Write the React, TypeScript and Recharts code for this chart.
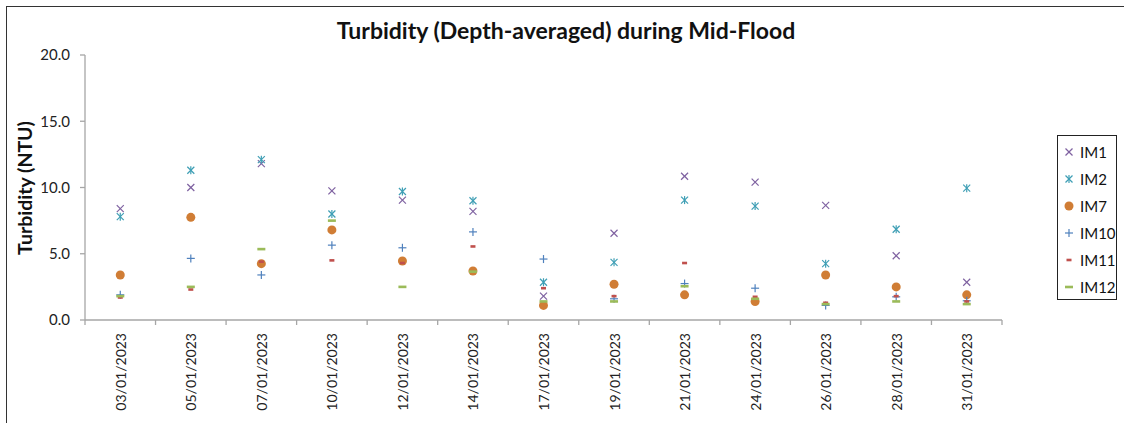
import React from 'react';
import { ComposedChart, Scatter, XAxis, YAxis } from 'recharts';

const dates = [
  '03/01/2023', '05/01/2023', '07/01/2023', '10/01/2023', '12/01/2023', '14/01/2023', '17/01/2023',
  '19/01/2023', '21/01/2023', '24/01/2023', '26/01/2023', '28/01/2023', '31/01/2023',
];
const im1 = [8.4, 10.0, 11.8, 9.75, 9.05, 8.2, 1.8, 6.55, 10.85, 10.4, 8.65, 4.85, 2.85];
const im2 = [7.8, 11.3, 12.1, 8.0, 9.7, 9.0, 2.85, 4.35, 9.05, 8.6, 4.25, 6.85, 9.95];
const im7 = [3.4, 7.75, 4.25, 6.8, 4.45, 3.7, 1.1, 2.7, 1.9, 1.4, 3.4, 2.5, 1.9];
const im10 = [1.9, 4.65, 3.4, 5.65, 5.45, 6.65, 4.6, 1.6, 2.75, 2.4, 1.1, 1.75, 1.45];
const im11 = [1.7, 2.3, 4.4, 4.5, 4.3, 5.55, 2.4, 1.8, 4.3, 1.75, 1.3, 1.8, 1.4];
const im12 = [1.8, 2.5, 5.35, 7.5, 2.5, 3.65, 1.4, 1.4, 2.55, 1.6, 1.2, 1.4, 1.2];
const yTicks = [0, 5, 10, 15, 20];

const rows = dates.map((date, i) => ({
  date,
  im1: im1[i],
  im2: im2[i],
  im7: im7[i],
  im10: im10[i],
  im11: im11[i],
  im12: im12[i],
}));

const FONT = 'Lato, "Open Sans", sans-serif';
const AXIS = '#a6a6a6';

type MarkProps = { cx: number; cy: number; color: string };

const Cross = ({ cx, cy, color }: MarkProps) => (
  <g stroke={color} strokeWidth={1.2}>
    <line x1={cx - 3.5} y1={cy - 3.5} x2={cx + 3.5} y2={cy + 3.5} />
    <line x1={cx - 3.5} y1={cy + 3.5} x2={cx + 3.5} y2={cy - 3.5} />
  </g>
);
const Star = ({ cx, cy, color }: MarkProps) => (
  <g stroke={color} strokeWidth={1.2}>
    <line x1={cx - 3.5} y1={cy - 3.5} x2={cx + 3.5} y2={cy + 3.5} />
    <line x1={cx - 3.5} y1={cy + 3.5} x2={cx + 3.5} y2={cy - 3.5} />
    <line x1={cx} y1={cy - 4} x2={cx} y2={cy + 4} />
  </g>
);
const Dot = ({ cx, cy, color }: MarkProps) => <circle cx={cx} cy={cy} r={4.5} fill={color} />;
const Plus = ({ cx, cy, color }: MarkProps) => (
  <g stroke={color} strokeWidth={1.2}>
    <line x1={cx - 4} y1={cy} x2={cx + 4} y2={cy} />
    <line x1={cx} y1={cy - 4} x2={cx} y2={cy + 4} />
  </g>
);
const ShortDash = ({ cx, cy, color }: MarkProps) => (
  <rect x={cx - 2.5} y={cy - 1.3} width={5} height={2.6} fill={color} />
);
const LongDash = ({ cx, cy, color }: MarkProps) => (
  <rect x={cx - 4} y={cy - 1.3} width={8} height={2.6} fill={color} />
);

const series = [
  { key: 'im1', name: 'IM1', color: '#7f62a1', Mark: Cross },
  { key: 'im2', name: 'IM2', color: '#3f9fb5', Mark: Star },
  { key: 'im7', name: 'IM7', color: '#d07d35', Mark: Dot },
  { key: 'im10', name: 'IM10', color: '#4f81bd', Mark: Plus },
  { key: 'im11', name: 'IM11', color: '#c0504d', Mark: ShortDash },
  { key: 'im12', name: 'IM12', color: '#9bbb59', Mark: LongDash },
];

const DateTick = (props: any) => {
  const { x, y, payload, index, width, visibleTicksCount } = props;
  const band = width / visibleTicksCount;
  const axisY = y - 8;
  return (
    <g>
      <line x1={x - band / 2} y1={axisY} x2={x - band / 2} y2={axisY + 5} stroke={AXIS} strokeWidth={1.3} />
      {index === visibleTicksCount - 1 && (
        <line x1={x + band / 2} y1={axisY} x2={x + band / 2} y2={axisY + 5} stroke={AXIS} strokeWidth={1.3} />
      )}
      <text
        x={x}
        y={axisY + 13}
        transform={`rotate(-90 ${x} ${axisY + 13})`}
        textAnchor="end"
        dominantBaseline="central"
        fontSize={14}
        fontFamily={FONT}
        fill="#222"
      >
        {payload.value}
      </text>
    </g>
  );
};

export default function App() {
  return (
    <div style={{ position: 'absolute', left: 0, top: 0, width: 1124, height: 423, overflow: 'hidden', background: '#fff' }}>
      <div
        style={{
          position: 'absolute',
          left: 6,
          top: 6,
          width: 1200,
          height: 500,
          borderLeft: '1.5px solid #333',
          borderTop: '1.5px solid #333',
        }}
      />
      <div
        style={{
          position: 'absolute',
          left: 0,
          width: 1124,
          top: 16,
          textAlign: 'center',
          fontFamily: FONT,
          fontWeight: 700,
          fontSize: 23,
          color: '#111',
          paddingLeft: 8,
          boxSizing: 'border-box',
        }}
      >
        Turbidity (Depth-averaged) during Mid-Flood
      </div>
      <div style={{ position: 'absolute', left: 0, top: 0 }}>
        <ComposedChart width={1124} height={423} data={rows} margin={{ top: 55, right: 122, bottom: 13, left: 25 }}>
          <XAxis
            dataKey="date"
            scale="band"
            interval={0}
            height={90}
            axisLine={{ stroke: AXIS, strokeWidth: 1.3 }}
            tickLine={false}
            tick={<DateTick />}
          />
          <YAxis
            domain={[0, 20]}
            ticks={yTicks}
            width={60}
            tickFormatter={(v: number) => v.toFixed(1)}
            axisLine={{ stroke: AXIS, strokeWidth: 1.3 }}
            tickLine={{ stroke: AXIS, strokeWidth: 1.3 }}
            tickSize={5}
            tickMargin={10}
            tick={{ fontSize: 15, fontFamily: FONT, fill: '#222' }}
            label={{
              content: () => (
                <text
                  x={24}
                  y={188}
                  transform="rotate(-90 24 188)"
                  textAnchor="middle"
                  dominantBaseline="central"
                  fontSize={19.5}
                  fontWeight={700}
                  fontFamily={FONT}
                  fill="#111"
                >
                  Turbidity (NTU)
                </text>
              ),
            }}
          />
          {series.map((s) => (
            <Scatter
              key={s.key}
              dataKey={s.key}
              name={s.name}
              isAnimationActive={false}
              shape={(p: any) => <s.Mark cx={p.cx} cy={p.cy} color={s.color} />}
            />
          ))}
        </ComposedChart>
      </div>
      <div
        style={{
          position: 'absolute',
          left: 1057,
          top: 135,
          width: 60,
          height: 165,
          border: '1px solid #222',
          boxSizing: 'border-box',
          paddingTop: 2,
          fontFamily: FONT,
          fontSize: 15,
          color: '#111',
        }}
      >
        {series.map((s) => (
          <div key={s.key} style={{ display: 'flex', alignItems: 'center', height: 27 }}>
            <svg width={20} height={14} style={{ marginLeft: 2 }}>
              <s.Mark cx={9} cy={7} color={s.color} />
            </svg>
            <span>{s.name}</span>
          </div>
        ))}
      </div>
    </div>
  );
}
